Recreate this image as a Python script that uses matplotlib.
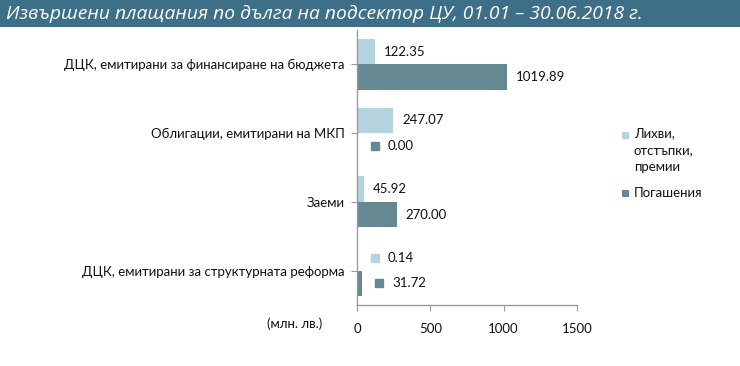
import matplotlib
matplotlib.use("Agg")
import matplotlib.pyplot as plt
from matplotlib.patches import Rectangle
import numpy as np

categories = ["ДЦК, емитирани за финансиране на бюджета",
              "Облигации, емитирани на МКП",
              "Заеми",
              "ДЦК, емитирани за структурната реформа"]
interest = [122.35, 247.07, 45.92, 0.14]
repayment = [1019.89, 0.00, 270.00, 31.72]
series_names = ["Лихви,\nотстъпки,\nпремии", "Погашения"]
xticks = [0, 500, 1000, 1500]
title = "Извършени плащания по дълга на подсектор ЦУ, 01.01 – 30.06.2018 г."
unit = "(млн. лв.)"

c_light = "#b6d4df"
c_dark = "#668892"
c_title = "#3d7088"
txt = "#111111"
font = ["Lato", "DejaVu Sans"]
plt.rcParams['font.family'] = font

W, H = 740, 366
fig = plt.figure(figsize=(W/100, H/100), dpi=100)
fig.patch.set_facecolor("white")

# title bar
fig.patches.append(Rectangle((0, 1-27/H), 1, 27/H, transform=fig.transFigure,
                             facecolor=c_title, edgecolor="none", zorder=0))
fig.text(6/W, 1-14/H, title, color="white", fontsize=13.85, style="italic",
         va="center", ha="left", family=["Open Sans", "DejaVu Sans"])

ax = fig.add_axes([357/W, 1-305/H, 220/W, 275/H])
n = len(categories)
y = np.arange(n)
h = 0.37
ax.barh(y - h/2, interest, height=h, color=c_light, zorder=2)
ax.barh(y + h/2, repayment, height=h, color=c_dark, zorder=2)
ax.set_ylim(n - 0.5, -0.5)
ax.set_xlim(0, 1500)
ax.set_xticks(xticks)
ax.set_xticklabels([str(t) for t in xticks], fontsize=9.5, color=txt)
ax.set_yticks(y)
ax.set_yticklabels(categories, fontsize=9.5, color=txt)
for s in ["top", "right"]:
    ax.spines[s].set_visible(False)
for s in ["left", "bottom"]:
    ax.spines[s].set_color("#9a9a9a")
    ax.spines[s].set_linewidth(1.0)
ax.tick_params(axis="x", direction="out", length=4, color="#9a9a9a", pad=9)
ax.tick_params(axis="y", direction="out", length=4, color="#9a9a9a", pad=5)

# data labels
def label(val, ypos, color, key):
    if key:
        ax.plot([val + 120], [ypos], marker="s", markersize=6, color=color,
                linestyle="none", zorder=3, clip_on=False)
        ax.text(val + 210, ypos, f"{val:.2f}", va="center", ha="left", fontsize=9.5, color=txt)
    else:
        ax.text(val + 60, ypos, f"{val:.2f}", va="center", ha="left", fontsize=9.5, color=txt)

for i in range(n):
    label(interest[i], y[i] - h/2, c_light, interest[i] < 20)
    label(repayment[i], y[i] + h/2, c_dark, repayment[i] < 40)

fig.text(322/W, 1-324/H, unit, fontsize=9.5, ha="right", va="center", color=txt)

# legend
lx, ly = 622/W, 1-135/H
fig.patches.append(Rectangle((lx, ly - 3.5/H), 7/W, 7/H, transform=fig.transFigure,
                             facecolor=c_light, edgecolor="none"))
fig.text(lx + 12/W, ly + 8/H, series_names[0], fontsize=9.5, va="top", ha="left",
         linespacing=1.5, color=txt)
ly2 = 1-193/H
fig.patches.append(Rectangle((lx, ly2 - 3.5/H), 7/W, 7/H, transform=fig.transFigure,
                             facecolor=c_dark, edgecolor="none"))
fig.text(lx + 12/W, ly2, series_names[1], fontsize=9.5, va="center", ha="left", color=txt)

fig.savefig("out.png", dpi=100)
